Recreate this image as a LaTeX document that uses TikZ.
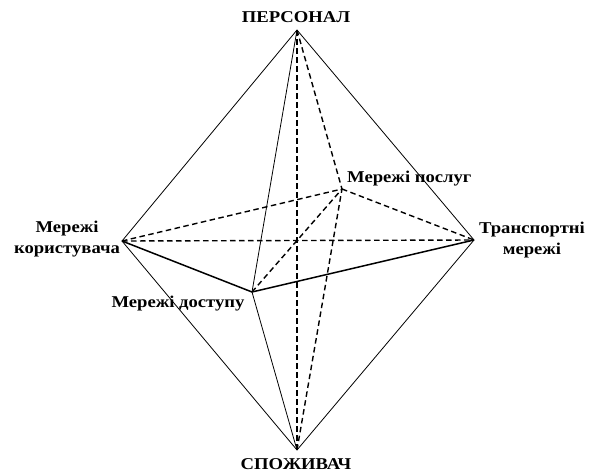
\documentclass[tikz,border=0pt]{standalone}
\usepackage{fontspec}
\setmainfont{Liberation Serif}[FakeStretch=1.13]
\begin{document}
\begin{tikzpicture}[x=1pt,y=-1pt,
  thinline/.style={line width=0.8pt},
  thickline/.style={line width=1.5pt},
  dashline/.style={line width=1.4pt,dash pattern=on 5.5pt off 3.5pt},
  lbl/.style={font=\fontsize{16.5}{21}\selectfont\bfseries,inner sep=0pt,align=center},
  vtx/.style={inner sep=0pt,minimum size=0pt}]
\useasboundingbox (0,0) rectangle (590,472);
\coordinate (T) at (297,30);
\coordinate (B) at (297,450);
\coordinate (L) at (122,241);
\coordinate (R) at (474,240);
\coordinate (F) at (252,292);
\coordinate (K) at (342,189);
% solid edges
\draw[thinline] (T) -- (L);
\draw[thinline] (T) -- (R);
\draw[thinline] (B) -- (L);
\draw[thinline] (B) -- (R);
\draw[thinline] (T) -- (F);
\draw[thinline] (B) -- (F);
\draw[thickline] (L) -- (F);
\draw[thickline] (F) -- (R);
% dashed edges
\draw[dashline] (T) -- (K);
\draw[dashline] (B) -- (K);
\draw[dashline] (L) -- (K);
\draw[dashline] (K) -- (R);
\draw[dashline] (L) -- (R);
\draw[dashline] (T) -- (B);
\draw[dashline] (F) -- (K);
% labels
\node[lbl] (lt) at (296,17) {ПЕРСОНАЛ};
\node[lbl] (lb) at (296,464) {СПОЖИВАЧ};
\node[lbl,anchor=west] (lk) at (347,179) {Мережі послуг};
\node[lbl] (lf) at (178,304) {Мережі доступу};
\node[lbl] (ll) at (67,239) {Мережі\\користувача};
\node[lbl] (lr) at (532,240) {Транспортні\\мережі};
\end{tikzpicture}
\end{document}
